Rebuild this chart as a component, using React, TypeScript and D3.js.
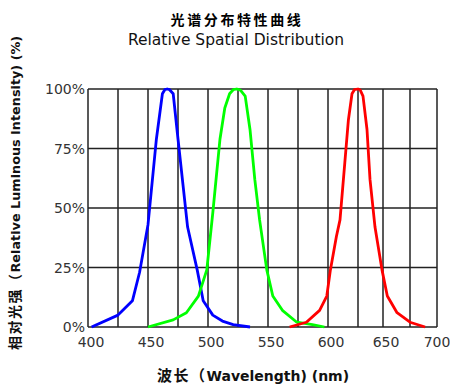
import React from "react";
import * as d3 from "d3";

// wavelength (nm) / relative intensity (%)
const blueWl = [403, 425, 437, 443, 450, 457, 462, 464, 466, 468, 471, 475, 483, 491, 496, 504, 512, 521, 535];
const blueVal = [0, 5, 11, 23, 43, 79, 98, 99.7, 100, 99.7, 98, 79, 42, 24, 11, 5, 2.5, 1, 0];

const greenWl = [450, 471, 482, 492, 499, 504, 510, 514, 518, 521, 524, 527, 531, 535, 539, 543, 549, 554, 562, 574, 587, 597];
const greenVal = [0, 3, 6, 13, 24, 48, 79, 92, 98, 99.7, 100, 99.5, 97, 83, 62, 45, 24, 13, 7, 2, 1, 0];

const redWl = [568, 582, 593, 599, 602, 607, 610, 614, 617, 620, 622, 625, 627, 630, 634, 637, 642, 649, 654, 663, 675, 689];
const redVal = [0, 2, 7, 13, 24, 38, 45, 69, 87, 98, 99.7, 100, 99.7, 97, 83, 62, 42, 24, 13, 6, 2, 0];

const xTicks = [400, 450, 500, 550, 600, 650, 700];
const xGrid = [400, 425, 450, 475, 500, 525, 550, 575, 600, 625, 650, 675, 700];
const yTicks = [0, 25, 50, 75, 100];

const W = 450;
const H = 388;

// the original grid is not evenly spaced at the right end
const x = d3.scaleLinear().domain([400, 625, 650, 700]).range([88, 358, 383, 437]);
const y = d3.scaleLinear().domain([0, 100]).range([327, 89]);

const line = d3
  .line<[number, number]>()
  .x((d) => x(d[0]))
  .y((d) => y(d[1]))
  .curve(d3.curveLinear);

const series = [
  { wl: blueWl, val: blueVal, color: "#0000ff" },
  { wl: greenWl, val: greenVal, color: "#00ff00" },
  { wl: redWl, val: redVal, color: "#ff0000" },
];

const tickFont = "'DejaVu Sans', sans-serif";
const cjk = "'Noto Sans CJK SC', sans-serif";

export default function App() {
  return (
    <svg
      width={W}
      height={H}
      style={{ position: "absolute", left: 0, top: 0, background: "#fff" }}
    >
      {/* titles */}
      <text x={237} y={25} textAnchor="middle" fontFamily={cjk} fontWeight="bold" fontSize={14} letterSpacing={2.6}>
        光谱分布特性曲线
      </text>
      <text x={236} y={45} textAnchor="middle" fontFamily={tickFont} fontSize={15.5} fill="#111">
        Relative Spatial Distribution
      </text>

      {/* grid */}
      <g stroke="#222" strokeWidth={1.5}>
        {xGrid.map((v) => (
          <line key={"vx" + v} x1={x(v)} x2={x(v)} y1={y(0)} y2={y(100)} />
        ))}
        {yTicks.map((v) => (
          <line key={"hy" + v} x1={x(400)} x2={x(700)} y1={y(v)} y2={y(v)} />
        ))}
      </g>

      {/* curves */}
      {series.map((s, i) => (
        <path
          key={i}
          d={line(s.wl.map((w, j) => [w, s.val[j]] as [number, number])) || ""}
          fill="none"
          stroke={s.color}
          strokeWidth={2.8}
          strokeLinejoin="round"
        />
      ))}

      {/* y tick labels */}
      {yTicks.map((v) => (
        <text key={"yl" + v} x={85} y={y(v) + 5} textAnchor="end" fontFamily={tickFont} fontSize={14} fill="#333">
          {v + "%"}
        </text>
      ))}

      {/* x tick labels */}
      {xTicks.map((v) => (
        <text key={"xl" + v} x={x(v) + (v === 700 ? 0 : 3)} y={347} textAnchor="middle" fontFamily={tickFont} fontSize={14} fill="#333">
          {v}
        </text>
      ))}

      {/* axis titles */}
      <text x={157} y={381} fontFamily={tickFont} fontWeight="bold" fontSize={14} fill="#111">
        <tspan fontFamily={cjk} fontSize={15} letterSpacing={1.5}>波长（</tspan>
        <tspan>Wavelength) (nm)</tspan>
      </text>
      <text
        transform="translate(20,350) rotate(-90)"
        fontFamily={tickFont}
        fontWeight="bold"
        fontSize={12.8}
        fill="#111"
      >
        <tspan fontFamily={cjk} fontSize={14} letterSpacing={1.5}>相对光强（</tspan>
        <tspan>Relative Luminous Intensity) (%)</tspan>
      </text>
    </svg>
  );
}
